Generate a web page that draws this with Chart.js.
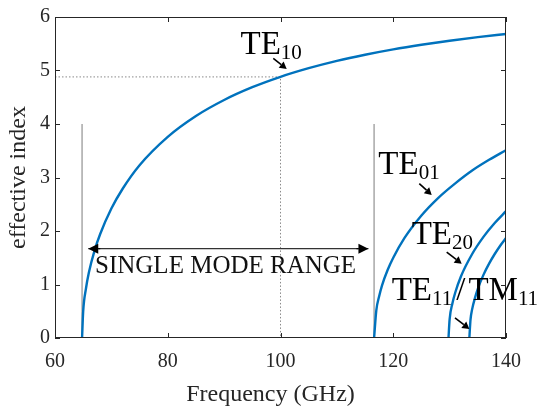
<!DOCTYPE html>
<html><head><meta charset="utf-8">
<script src="https://cdn.jsdelivr.net/npm/chart.js@4/dist/chart.umd.min.js"></script>
<style>html,body{margin:0;padding:0;background:#fff}#wrap{width:540px;height:408px}</style>
</head><body><div id="wrap"><canvas id="c" width="540" height="408"></canvas></div>
<script>
// ---- data ----
const xTicks = [60, 80, 100, 120, 140];
const yTicks = [0, 1, 2, 3, 4, 5, 6];

const te10F = [64.8, 65, 65.5, 66, 67, 68, 70, 72, 75, 80, 85, 90, 95, 100, 105, 110, 115, 120, 125, 130, 135, 140];
const te10N = [0, 0.50, 0.93, 1.22, 1.63, 1.94, 2.42, 2.79, 3.23, 3.76, 4.15, 4.449, 4.688, 4.882, 5.043, 5.180, 5.295, 5.395, 5.481, 5.557, 5.624, 5.682];

const te01F = [116.6, 117, 117.5, 118, 119, 120, 122, 125, 128, 131, 134, 137, 140];
const te01N = [0, 0.52, 0.78, 0.98, 1.27, 1.50, 1.87, 2.29, 2.62, 2.89, 3.13, 3.33, 3.51];

const te20F = [129.8, 130, 130.5, 131, 132, 134, 136, 138, 140];
const te20N = [0, 0.35, 0.65, 0.85, 1.15, 1.57, 1.89, 2.15, 2.37];

const te11F = [133.5, 133.7, 134, 134.5, 135, 136, 137, 138, 139, 140];
const te11N = [0, 0.34, 0.54, 0.75, 0.92, 1.18, 1.39, 1.57, 1.73, 1.87];

const cutoffLines = [64.8, 116.6];   // gray vertical markers (GHz)
const cutoffTop = 4;                 // their height (index)
const refFreq = 100, refIndex = 4.88; // dotted reference
const rangeFrom = 65.9, rangeTo = 115.6, rangeLevel = 1.67;

// annotation texts (data units: left x, baseline y); parts: [text, isSub, gapBefore]
const modeLabels = [
  {parts: [["TE", 0, 0], ["10", 1, 0]], x: 92.9, y: 5.30},
  {parts: [["TE", 0, 0], ["01", 1, 0]], x: 117.35, y: 3.06},
  {parts: [["TE", 0, 0], ["20", 1, 0]], x: 123.27, y: 1.76},
  {parts: [["TE", 0, 0], ["11", 1, 0], ["/", 0, 4], ["TM", 0, 3], ["11", 1, 0]], x: 119.72, y: 0.706}
];
const pointerArrows = [
  [98.72, 5.225, 101.10, 5.03],
  [124.62, 2.885, 126.82, 2.675],
  [129.48, 1.603, 132.14, 1.388],
  [130.95, 0.377, 133.49, 0.167]
];
const rangeText = {text: "SINGLE MODE RANGE", x: 67.1, y: 1.213};

// ---- build ----
const toPts = (f, n) => f.map((v, i) => ({x: v, y: n[i]}));
const SERIF = "'Liberation Serif', 'Times New Roman', serif";
const INK = '#262626';
const BLUE = '#0072BD';

function curve(f, n) {
  return {data: toPts(f, n), showLine: true, borderColor: BLUE, borderWidth: 2.4,
    pointRadius: 0, cubicInterpolationMode: 'monotone', order: 0};
}
const datasets = [
  curve(te10F, te10N), curve(te01F, te01N), curve(te20F, te20N), curve(te11F, te11N),
  ...cutoffLines.map(f => ({data: [{x: f, y: 0}, {x: f, y: cutoffTop}], showLine: true,
    borderColor: '#9a9a9a', borderWidth: 1.3, pointRadius: 0, order: 2})),
  {data: [{x: xTicks[0], y: refIndex}, {x: refFreq, y: refIndex}, {x: refFreq, y: 0}], showLine: true,
    borderColor: '#8a8a8a', borderWidth: 1, borderDash: [1.5, 2], pointRadius: 0, order: 2},
  {data: [{x: rangeFrom, y: rangeLevel}, {x: rangeTo, y: rangeLevel}], showLine: true,
    borderColor: '#333', borderWidth: 1.2, pointRadius: 0, order: 1}
];

function arrow(ctx, x1, y1, x2, y2, len, half) {
  const a = Math.atan2(y2 - y1, x2 - x1);
  const bx = x2 - len * Math.cos(a), by = y2 - len * Math.sin(a);
  ctx.beginPath(); ctx.moveTo(x1, y1); ctx.lineTo(bx, by); ctx.stroke();
  ctx.beginPath();
  ctx.moveTo(x2, y2);
  ctx.lineTo(bx + half * Math.sin(a), by - half * Math.cos(a));
  ctx.lineTo(bx - half * Math.sin(a), by + half * Math.cos(a));
  ctx.closePath(); ctx.fill();
}

const decor = {
  id: 'decor',
  afterDatasetsDraw(chart) {
    const {ctx, chartArea: a, scales: {x, y}} = chart;
    ctx.save();
    // frame
    ctx.strokeStyle = INK; ctx.lineWidth = 1;
    ctx.strokeRect(a.left + 0.5, a.top + 0.5, a.right - a.left - 1, a.bottom - a.top - 1);
    // inward ticks
    ctx.beginPath();
    xTicks.forEach(t => { const px = Math.round(x.getPixelForValue(t)) + 0.5;
      ctx.moveTo(px, a.bottom); ctx.lineTo(px, a.bottom - 5);
      ctx.moveTo(px, a.top); ctx.lineTo(px, a.top + 5); });
    yTicks.forEach(t => { const py = Math.round(y.getPixelForValue(t)) + 0.5;
      ctx.moveTo(a.left, py); ctx.lineTo(a.left + 5, py);
      ctx.moveTo(a.right, py); ctx.lineTo(a.right - 5, py); });
    ctx.stroke();
    // range double arrow heads
    ctx.fillStyle = '#000'; ctx.strokeStyle = '#000'; ctx.lineWidth = 1.2;
    const ry = y.getPixelForValue(rangeLevel);
    const rx1 = x.getPixelForValue(rangeFrom), rx2 = x.getPixelForValue(rangeTo);
    arrow(ctx, rx1 + 12, ry, rx1, ry, 10, 5);
    arrow(ctx, rx2 - 12, ry, rx2, ry, 10, 5);
    // pointer arrows
    ctx.lineWidth = 1.6;
    pointerArrows.forEach(p => arrow(ctx, x.getPixelForValue(p[0]), y.getPixelForValue(p[1]),
      x.getPixelForValue(p[2]), y.getPixelForValue(p[3]), 7, 4));
    // mode labels
    ctx.fillStyle = '#000'; ctx.textBaseline = 'alphabetic'; ctx.textAlign = 'left';
    modeLabels.forEach(l => {
      let px = x.getPixelForValue(l.x); const py = y.getPixelForValue(l.y);
      l.parts.forEach(([t, sub, gap]) => {
        px += gap;
        ctx.font = sub ? `21px ${SERIF}` : `33px ${SERIF}`;
        ctx.fillText(t, px, sub ? py + 5 : py);
        px += ctx.measureText(t).width;
      });
    });
    ctx.font = `25px ${SERIF}`; ctx.fillStyle = '#111';
    ctx.fillText(rangeText.text, x.getPixelForValue(rangeText.x), y.getPixelForValue(rangeText.y));
    // axis titles
    ctx.fillStyle = INK; ctx.font = `24px ${SERIF}`; ctx.textAlign = 'center';
    ctx.fillText('Frequency (GHz)', (a.left + a.right) / 2 - 10, 401);
    ctx.save();
    ctx.translate(25, (a.top + a.bottom) / 2);
    ctx.rotate(-Math.PI / 2);
    ctx.fillText('effective index', 0, 0);
    ctx.restore();
    ctx.restore();
  }
};

new Chart(document.getElementById('c'), {
  type: 'scatter',
  data: {datasets},
  options: {
    responsive: false, animation: false, devicePixelRatio: 1,
    layout: {padding: {top: 15, right: 34, left: 0, bottom: 0}},
    plugins: {legend: {display: false}, tooltip: {enabled: false}},
    scales: {
      x: {type: 'linear', min: 60, max: 140,
        afterBuildTicks: s => { s.ticks = xTicks.map(v => ({value: v})); },
        afterFit: s => { s.height = 70; },
        grid: {display: false, drawTicks: false},
        border: {display: false},
        ticks: {font: {family: SERIF, size: 20}, color: INK, padding: 12, maxRotation: 0}},
      y: {type: 'linear', min: 0, max: 6,
        afterBuildTicks: s => { s.ticks = yTicks.map(v => ({value: v})); },
        afterFit: s => { s.width = 55; },
        grid: {display: false, drawTicks: false},
        border: {display: false},
        ticks: {font: {family: SERIF, size: 20}, color: INK, padding: 5}}
    }
  },
  plugins: [decor]
});
</script></body></html>
